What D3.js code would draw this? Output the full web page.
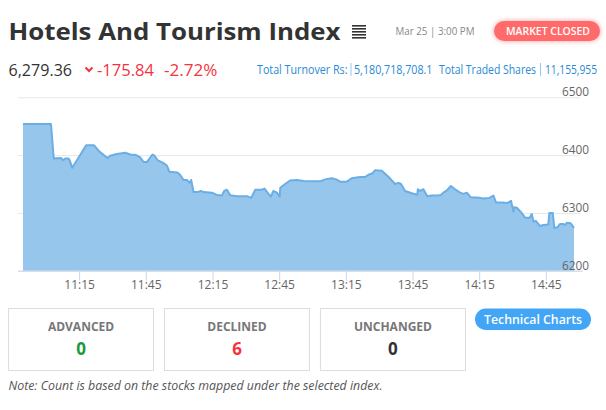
<!DOCTYPE html>
<html>
<head>
<meta charset="utf-8">
<script src="https://cdn.jsdelivr.net/npm/d3@7"></script>
<style>
  html, body { margin: 0; padding: 0; background: #fff; }
  svg { display: block; }
</style>
</head>
<body>
<svg id="chart" width="606" height="410"></svg>
<script>
// ---- data ----
const indexName = "Hotels And Tourism Index";
const dateLabel = "Mar 25 | 3:00 PM";
const marketStatus = "MARKET CLOSED";
const lastValue = "6,279.36";
const pointChange = "-175.84";
const percentChange = "-2.72%";
const turnoverLabel = "Total Turnover Rs:";
const turnoverValue = "5,180,718,708.1";
const sharesLabel = "Total Traded Shares";
const sharesValue = "11,155,955";

const times = [
  "10:49:45","11:02:20","11:03:35","11:06:50","11:07:45","11:08:45","11:10:15","11:10:45","11:11:55",
  "11:18:10","11:21:45","11:24:10","11:27:45","11:29:00","11:32:00","11:35:45","11:38:00","11:40:40",
  "11:42:30","11:44:00","11:45:30","11:48:00","11:48:55","11:50:15","11:53:00","11:54:30","11:55:40",
  "11:59:15","12:00:30","12:02:00","12:03:30","12:04:40","12:05:25","12:06:30","12:08:25","12:09:45",
  "12:11:00","12:14:45","12:17:00","12:19:15","12:20:15","12:21:30","12:23:00","12:26:00","12:30:30",
  "12:32:25","12:34:15","12:37:15","12:38:25","12:39:45","12:41:15","12:42:25","12:44:00","12:45:15",
  "12:45:30","12:47:40","12:49:55","12:53:00","12:56:00","13:03:25","13:05:40","13:08:45","13:10:40",
  "13:12:25","13:15:25","13:17:40","13:21:25","13:23:40","13:25:10","13:27:00","13:28:10","13:31:10",
  "13:34:10","13:37:10","13:38:40","13:39:50","13:41:40","13:44:40","13:47:10","13:47:25","13:48:25",
  "13:49:55","13:51:40","13:53:40","13:56:40","13:57:45","13:59:15","14:00:40","14:02:15","14:04:10",
  "14:06:25","14:07:55","14:09:25","14:11:15","14:15:25","14:16:55","14:19:35","14:21:25","14:22:35",
  "14:25:10","14:27:40","14:29:20","14:30:25","14:30:40","14:31:55","14:33:45","14:35:40","14:37:35",
  "14:38:40","14:39:25","14:40:35","14:42:25","14:43:10","14:46:05","14:46:35","14:48:05","14:48:50",
  "14:50:10","14:51:25","14:52:50","14:53:40","14:54:25","14:56:10","14:57:40"
];
const values = [
  6454,6454,6394,6395,6391,6394,6394,6391,6378,
  6417,6417,6406,6395,6399,6402,6404,6401,6400,
  6396,6388,6388,6401,6399,6391.5,6386,6382,6371,
  6370,6365.5,6357,6357,6352,6357,6336,6336,6338,
  6336,6335,6331,6330,6338,6340,6330.5,6329,6329,
  6326,6340,6340,6342,6335,6328,6338,6335,6328,
  6343.6,6350,6356,6357,6355,6354.6,6358,6360,6358,
  6354,6354,6360,6362,6362,6366,6368.5,6374,6373,
  6362.6,6350,6352,6350,6338,6334,6331.5,6341,6338,
  6341,6329,6330,6330.4,6331,6336,6339.6,6346.5,6341,
  6335,6333,6335,6327,6326,6325,6326,6330,6318,
  6318,6317,6321,6302,6309.7,6309,6301.6,6292,6291,
  6298,6285,6286,6277,6278.5,6280,6300,6300,6274,
  6275,6281,6281,6279,6283,6282,6274
];
const xTickLabels = ["11:15","11:45","12:15","12:45","13:15","13:45","14:15","14:45"];
const yTicks = [6200, 6300, 6400, 6500];

const summaryLabels = ["ADVANCED", "DECLINED", "UNCHANGED"];
const summaryCounts = [0, 6, 0];
const summaryColors = ["#1a9a3c", "#f5333f", "#333333"];
const buttonLabel = "Technical Charts";
const noteText = "Note: Count is based on the stocks mapped under the selected index.";

// ---- drawing ----
const FONT = "'Open Sans', sans-serif";
const svg = d3.select("#chart").style("font-family", FONT);

// fits text to a measured width (reference font is narrower than installed fonts)
function fit(sel, w) { sel.attr("textLength", w).attr("lengthAdjust", "spacingAndGlyphs"); return sel; }

// header
fit(svg.append("text").attr("x", 8.5).attr("y", 39.5)
  .attr("font-size", 23).attr("font-weight", 700).attr("fill", "#333")
  .text(indexName), 332);

// hamburger icon
const ham = svg.append("g");
d3.range(5).forEach(i => {
  ham.append("rect").attr("x", 352).attr("y", 25 + i * 3).attr("width", 14).attr("height", 1.6).attr("fill", "#333");
});

fit(svg.append("text").attr("x", 395.5).attr("y", 34.5)
  .attr("font-size", 11).attr("fill", "#888").text(dateLabel), 79);

const defs = svg.append("defs");
const f = defs.append("filter").attr("id", "glow").attr("x", "-30%").attr("y", "-60%").attr("width", "160%").attr("height", "220%");
f.append("feDropShadow").attr("dx", 0).attr("dy", 0).attr("stdDeviation", 2.5).attr("flood-color", "#ff6b6b").attr("flood-opacity", 0.7);
svg.append("rect").attr("x", 494).attr("y", 21).attr("width", 106).attr("height", 20).attr("rx", 10)
  .attr("fill", "#ff6b6b").attr("filter", "url(#glow)");
fit(svg.append("text").attr("x", 506).attr("y", 35)
  .attr("font-size", 11).attr("font-weight", 600).attr("fill", "#fff").text(marketStatus), 84);

// stats row
fit(svg.append("text").attr("x", 8.5).attr("y", 75.5).attr("font-size", 16).attr("fill", "#333").text(lastValue), 63.5);
svg.append("path").attr("d", "M85.5,67.5 L89,71 L92.5,67.5").attr("fill", "none")
  .attr("stroke", "#f5333f").attr("stroke-width", 2);
fit(svg.append("text").attr("x", 97).attr("y", 75.5).attr("font-size", 16).attr("fill", "#f5333f").text(pointChange), 57);
fit(svg.append("text").attr("x", 164).attr("y", 75.5).attr("font-size", 16).attr("fill", "#f5333f").text(percentChange), 53.5);

const blue = "#2a8ad6";
fit(svg.append("text").attr("x", 257).attr("y", 74).attr("font-size", 12).attr("fill", blue).text(turnoverLabel), 90.5);
svg.append("rect").attr("x", 350.5).attr("y", 63).attr("width", 1).attr("height", 13).attr("fill", "#9cc8ee");
fit(svg.append("text").attr("x", 354).attr("y", 74).attr("font-size", 12).attr("fill", blue).text(turnoverValue), 78.5);
fit(svg.append("text").attr("x", 439).attr("y", 74).attr("font-size", 12).attr("fill", blue).text(sharesLabel), 97);
svg.append("rect").attr("x", 540).attr("y", 63).attr("width", 1).attr("height", 13).attr("fill", "#9cc8ee");
fit(svg.append("text").attr("x", 545).attr("y", 74).attr("font-size", 12).attr("fill", blue).text(sharesValue), 52);

// chart
const parse = d3.timeParse("%H:%M:%S");
const data = times.map((t, i) => ({ t: parse(t), v: values[i] }));
const x = d3.scaleTime().domain(d3.extent(data, d => d.t)).range([23, 574]);
const y = d3.scaleLinear().domain([6200, 6500]).range([270.7, 97.3]);
const gridLeft = 18, gridRight = 580;

// gridlines
const grid = svg.append("g").attr("transform", `translate(${gridLeft},0)`)
  .call(d3.axisRight(y).tickValues(yTicks).tickSize(gridRight - gridLeft).tickFormat(""));
grid.select(".domain").remove();
grid.selectAll(".tick line").attr("stroke", "#e6e6e6");

// area
const area = d3.area().x(d => x(d.t)).y0(y(6200)).y1(d => y(d.v));
const line = d3.line().x(d => x(d.t)).y(d => y(d.v));
svg.append("path").datum(data).attr("d", area).attr("fill", "#97c6ec");
svg.append("path").datum(data).attr("d", line).attr("fill", "none")
  .attr("stroke", "#6aaee6").attr("stroke-width", 2).attr("stroke-linejoin", "round");

// y labels
const yl = svg.append("g").attr("transform", "translate(589,0)")
  .call(d3.axisLeft(y).tickValues(yTicks).tickSize(0).tickPadding(0).tickFormat(d3.format("d")));
yl.select(".domain").remove();
yl.selectAll("text").attr("dy", "-0.12em").attr("font-size", 12).attr("fill", "#666").attr("font-family", FONT)
  .attr("textLength", 27).attr("lengthAdjust", "spacingAndGlyphs");

// x axis
const xTickDates = xTickLabels.map(s => parse(s + ":00"));
const xa = svg.append("g").attr("transform", `translate(0,${y(6200)})`)
  .call(d3.axisBottom(x).tickValues(xTickDates).tickSize(10).tickPadding(0).tickFormat(d3.timeFormat("%H:%M")));
xa.select(".domain").remove();
xa.selectAll(".tick line").attr("stroke", "#ccd6eb");
xa.selectAll("text").attr("font-size", 12).attr("fill", "#666").attr("font-family", FONT);
svg.append("line").attr("x1", gridLeft).attr("x2", gridRight + 3).attr("y1", y(6200) + 0.5).attr("y2", y(6200) + 0.5)
  .attr("stroke", "#ccd6eb");

// summary boxes
const boxX = d3.scaleBand().domain(summaryLabels).range([8.5, 465.5]).paddingInner(0.07);
summaryLabels.forEach((lab, i) => {
  const bx = boxX(lab), bw = boxX.bandwidth();
  svg.append("rect").attr("x", bx).attr("y", 308.5).attr("width", bw).attr("height", 62)
    .attr("fill", "#fff").attr("stroke", "#ddd");
  svg.append("text").attr("x", bx + bw / 2).attr("y", 331).attr("text-anchor", "middle")
    .attr("font-size", 12).attr("font-weight", 700).attr("fill", "#777").text(lab);
  svg.append("text").attr("x", bx + bw / 2).attr("y", 355).attr("text-anchor", "middle")
    .attr("font-size", 17).attr("font-weight", 700).attr("fill", summaryColors[i]).text(summaryCounts[i]);
});

svg.append("rect").attr("x", 475).attr("y", 308.5).attr("width", 116).attr("height", 21.5).attr("rx", 10.75).attr("fill", "#42a5f5");
fit(svg.append("text").attr("x", 484).attr("y", 324)
  .attr("font-size", 13).attr("font-weight", 600).attr("fill", "#fff").text(buttonLabel), 98);

fit(svg.append("text").attr("x", 8.5).attr("y", 390).attr("font-size", 12).attr("font-style", "italic")
  .attr("fill", "#555").text(noteText), 374);
</script>
</body>
</html>
